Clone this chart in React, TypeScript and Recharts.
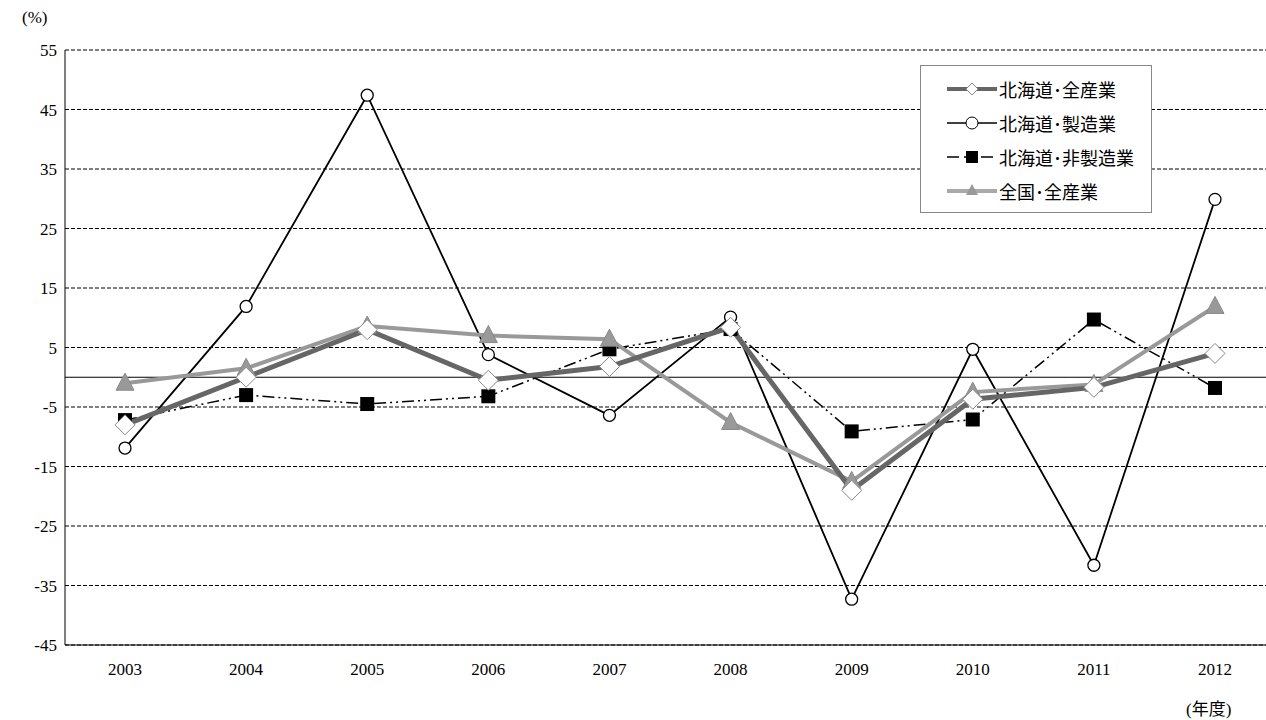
import React from 'react';
import { LineChart, Line, XAxis, YAxis, CartesianGrid, ReferenceLine } from 'recharts';

const years = ['2003', '2004', '2005', '2006', '2007', '2008', '2009', '2010', '2011', '2012'];
const hokkaidoAll = [-8, 0, 8, -0.5, 1.8, 8.4, -19, -3.7, -1.7, 4];
const hokkaidoMfg = [-11.9, 11.9, 47.4, 3.8, -6.4, 10.1, -37.3, 4.7, -31.6, 29.9];
const hokkaidoNonMfg = [-7.2, -3, -4.5, -3.2, 4.7, 8.1, -9.1, -7.1, 9.7, -1.8];
const nationalAll = [-1, 1.5, 8.6, 7, 6.4, -7.6, -17.5, -2.5, -1.2, 11.9];
const yTicks = [-45, -35, -25, -15, -5, 5, 15, 25, 35, 45, 55];

const data = years.map((y, i) => ({
  year: y,
  hAll: hokkaidoAll[i],
  hMfg: hokkaidoMfg[i],
  hNon: hokkaidoNonMfg[i],
  nAll: nationalAll[i],
}));

const font = '"Liberation Serif", "Noto Sans CJK JP", serif';

const Diamond = (p: any) => {
  const { cx, cy } = p;
  if (cx == null) return null;
  const s = 10;
  return <polygon points={`${cx},${cy - s} ${cx + s},${cy} ${cx},${cy + s} ${cx - s},${cy}`} fill="#fff" stroke="#888" strokeWidth={1} />;
};
const Square = (p: any) => {
  const { cx, cy } = p;
  if (cx == null) return null;
  return <rect x={cx - 7} y={cy - 7} width={14} height={14} fill="#000" />;
};
const Tri = (p: any) => {
  const { cx, cy } = p;
  if (cx == null) return null;
  return <polygon points={`${cx},${cy - 10} ${cx + 9},${cy + 7} ${cx - 9},${cy + 7}`} fill="#999" stroke="#888" />;
};

const legendItems = [
  { label: '北海道･全産業', icon: 'd' },
  { label: '北海道･製造業', icon: 'c' },
  { label: '北海道･非製造業', icon: 's' },
  { label: '全国･全産業', icon: 't' },
];

const LegendIcon = ({ kind }: { kind: string }) => (
  <svg width={50} height={20}>
    {kind === 'd' && <><line x1={0} y1={10} x2={50} y2={10} stroke="#666" strokeWidth={4} /><polygon points="25,4 31,10 25,16 19,10" fill="#fff" stroke="#888" /></>}
    {kind === 'c' && <><line x1={0} y1={10} x2={50} y2={10} stroke="#000" strokeWidth={1.5} /><circle cx={25} cy={10} r={6} fill="#fff" stroke="#000" /></>}
    {kind === 's' && <><line x1={0} y1={10} x2={50} y2={10} stroke="#000" strokeWidth={1.5} strokeDasharray="12 5" /><rect x={19} y={4} width={12} height={12} fill="#000" /></>}
    {kind === 't' && <><line x1={0} y1={10} x2={50} y2={10} stroke="#aaa" strokeWidth={4} /><polygon points="25,3 31,14 19,14" fill="#999" /></>}
  </svg>
);

export default function App() {
  return (
    <div style={{ position: 'absolute', left: 0, top: 0, width: 1266, height: 720, overflow: 'hidden', background: '#fff', fontFamily: font }}>
      <LineChart width={1280} height={720} data={data} margin={{ top: 50, right: 5, left: 0, bottom: 45 }}>
        <CartesianGrid horizontal vertical={false} stroke="#000" strokeDasharray="4 2" />
        <XAxis dataKey="year" height={30} axisLine={{ stroke: '#000' }} tickLine={false} padding={{ left: 60, right: 60 }}
          tick={{ fontSize: 17, fill: '#000', fontFamily: font }} tickMargin={12} />
        <YAxis width={65} domain={[-45, 55]} ticks={yTicks} interval={0} axisLine={{ stroke: '#000' }} tickLine={false}
          tick={{ fontSize: 17, fill: '#000', fontFamily: font }} />
        <ReferenceLine y={0} stroke="#000" strokeWidth={1.2} />
        <Line dataKey="hMfg" stroke="#000" strokeWidth={1.8} isAnimationActive={false}
          dot={{ r: 6, fill: '#fff', stroke: '#000', strokeWidth: 1.3 }} />
        <Line dataKey="hNon" stroke="#000" strokeWidth={1.5} strokeDasharray="12 4 2 4 2 4" isAnimationActive={false}
          dot={<Square />} />
        <Line dataKey="nAll" stroke="#999" strokeWidth={4} isAnimationActive={false} dot={<Tri />} />
        <Line dataKey="hAll" stroke="#666" strokeWidth={5} isAnimationActive={false} dot={<Diamond />} />
      </LineChart>
      <div style={{ position: 'absolute', left: 22, top: 8, fontSize: 17 }}>(%)</div>
      <div style={{ position: 'absolute', left: 1186, top: 695, fontSize: 17 }}>(年度)</div>
      <div style={{ position: 'absolute', left: 920, top: 65, width: 232, height: 148, border: '1px solid #888', background: '#fff', boxSizing: 'border-box', padding: '6px 0 0 26px', fontFamily: '"Noto Sans CJK JP", sans-serif' }}>
        {legendItems.map((it) => (
          <div key={it.label} style={{ display: 'flex', alignItems: 'center', height: 34, fontSize: 18 }}>
            <LegendIcon kind={it.icon} />
            <span style={{ marginLeft: 2 }}>{it.label}</span>
          </div>
        ))}
      </div>
    </div>
  );
}
